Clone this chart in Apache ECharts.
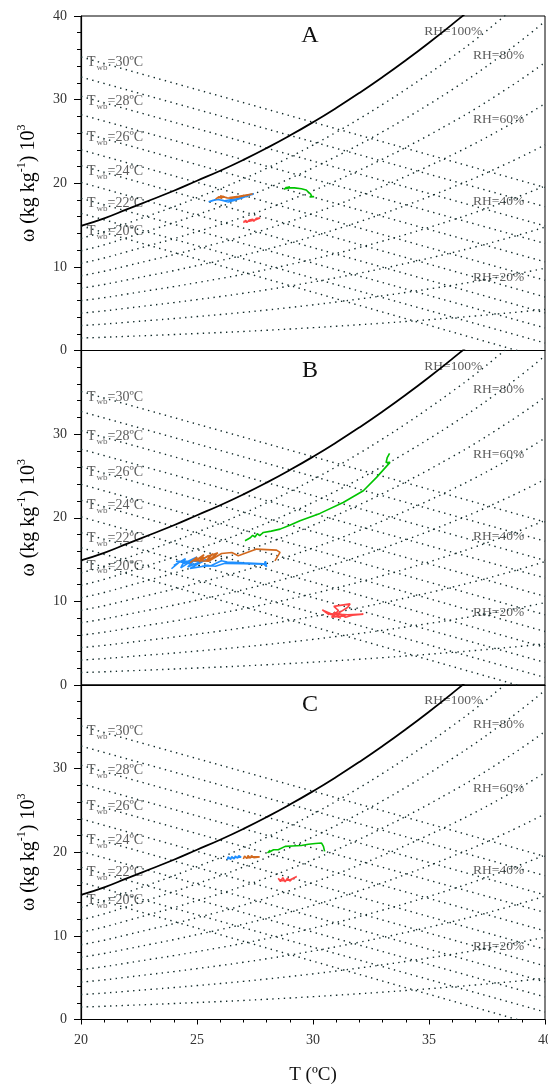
<!DOCTYPE html>
<html>
<head>
<meta charset="UTF-8">
<title>psychrometric panels</title>
<script src="https://cdn.jsdelivr.net/npm/echarts@6/dist/echarts.min.js"></script>
<style>html,body{margin:0;padding:0;background:#fff;}</style>
</head>
<body>
<div id="main" style="width:548px;height:1086px;"></div>
<script type="text/javascript">
var FONT = '"Liberation Serif", "DejaVu Serif", serif';

// saturation curve (RH=100%), omega x 10^3 read at each degree
var satT = [20, 21, 22, 23, 24, 25, 26, 27, 28, 29, 30, 31, 32, 33, 34, 35, 36, 37, 38, 39, 40];
var satW = [14.9, 15.8, 16.9, 18.0, 19.1, 20.3, 21.5, 22.8, 24.2, 25.7, 27.3, 29.0, 30.8, 32.7, 34.7, 36.8, 39.0, 41.3, 43.8, 46.4, 49.2];
var rhLevels = [10, 20, 30, 40, 50, 60, 70, 80, 90];

// wet-bulb lines: omega at T=20 and the point where each leaves the frame
var twbVals = [30, 29, 28, 27, 26, 25, 24, 23, 22, 21, 20];
var twbLeftW = [35.1, 32.7, 30.4, 28.2, 26.1, 24.0, 22.1, 20.1, 18.2, 16.4, 14.9];
var twbEndT = [40, 40, 40, 40, 40, 40, 40, 40, 40, 40, 38.8];
var twbEndW = [19.5, 17.2, 14.9, 12.8, 10.6, 8.4, 6.4, 4.5, 2.7, 0.9, 0];
var twbLabelled = [30, 28, 26, 24, 22, 20];

var rhLabels = ['RH=100%', 'RH=80%', 'RH=60%', 'RH=40%', 'RH=20%'];
var rhLabelT = [34.8, 36.9, 36.9, 36.9, 36.9];
var rhLabelW = [38.1, 35.3, 27.6, 17.8, 8.7];

var panelNames = ['A', 'B', 'C'];
var trackColors = ['#1f8fff', '#d2691e', '#ff4444', '#00c400'];

// panel A tracks [T, omega]
var blueA = [[25.5,17.8],[25.7,17.95],[25.6,17.85],[25.8,18.05],[25.65,17.9],[25.9,18.05],[26.1,17.95],[26.35,17.75],[26.6,17.95],[26.9,18.2],[27.2,18.5],[27.45,18.75],[27.2,18.6],[26.7,18.15],[26.2,17.9]];
var orangeA = [[25.8,18.1],[25.95,18.4],[26.05,18.2],[26.15,18.45],[25.9,18.25],[26.2,18.35],[26.0,18.5],[26.3,18.25],[26.5,18.2],[26.8,18.35],[27.1,18.55],[27.4,18.75],[27.25,18.65],[26.8,18.45],[26.4,18.3]];
var redA = [[27.0,15.3],[27.1,15.55],[27.15,15.3],[27.25,15.6],[27.3,15.4],[27.4,15.7],[27.45,15.45],[27.55,15.8],[27.6,15.6],[27.72,15.85],[27.55,15.65],[27.4,15.55],[27.25,15.45],[27.1,15.4],[27.0,15.45]];
var greenA = [[28.75,19.25],[28.85,19.5],[28.9,19.3],[29.0,19.55],[28.8,19.35],[28.95,19.45],[29.2,19.45],[29.5,19.35],[29.7,19.2],[29.8,18.95],[29.9,18.7],[29.95,18.4],[29.85,18.35],[30.05,18.4]];

// panel B tracks
var blueB = [[23.9,13.9],[24.2,14.6],[24.0,14.3],[24.5,15.1],[24.3,14.0],[24.8,14.9],[24.4,14.5],[25.0,15.3],[24.6,14.1],[25.2,14.8],[24.1,14.8],[24.9,14.4],[25.4,15.0],[24.7,13.95],[25.5,14.3],[25.2,14.2],[25.6,14.25],[26.05,14.85],[26.3,14.7],[27.0,14.6],[27.86,14.5],[28.0,14.15],[27.95,14.8],[27.9,14.45],[27.0,14.5],[26.2,14.55],[25.8,14.2],[25.3,14.35]];
var orangeB = [[24.7,14.6],[25.0,15.3],[24.9,14.8],[25.3,15.6],[25.1,14.7],[25.5,15.5],[25.2,15.0],[25.7,15.7],[25.4,14.9],[25.8,15.4],[25.6,15.1],[25.9,15.8],[25.3,15.2],[24.8,14.9],[25.5,14.8],[26.06,15.73],[26.5,15.85],[26.78,15.45],[27.57,16.25],[28.43,16.13],[28.58,15.85],[28.36,14.85]];
var redB = [[30.4,9.0],[30.7,8.4],[30.5,8.8],[31.0,8.2],[30.6,8.6],[31.2,8.0],[30.9,8.7],[31.4,8.3],[30.8,8.1],[31.1,8.9],[30.9,9.4],[31.6,9.7],[31.5,9.3],[31.1,8.6],[31.4,8.1],[31.7,8.35],[32.17,8.47],[31.5,8.4],[30.8,8.5],[30.45,8.9]];
var greenB = [[27.07,17.25],[27.3,17.6],[27.4,17.9],[27.5,17.7],[27.6,18.1],[27.7,17.85],[27.86,18.24],[28.2,18.4],[28.58,18.64],[29.0,19.1],[29.44,19.64],[30.3,20.52],[31.3,21.83],[32.17,23.23],[32.74,24.83],[33.32,26.62],[33.15,26.6],[33.2,27.2],[33.3,27.7]];

// panel C tracks
var blueC = [[26.3,19.1],[26.35,19.45],[26.45,19.15],[26.5,19.5],[26.6,19.2],[26.65,19.55],[26.75,19.3],[26.8,19.6],[26.9,19.4],[26.95,19.6],[26.7,19.4],[26.45,19.3],[26.3,19.25]];
var orangeC = [[27.0,19.2],[27.05,19.55],[27.15,19.25],[27.2,19.6],[27.3,19.3],[27.35,19.6],[27.45,19.35],[27.7,19.45],[27.4,19.45],[27.1,19.3]];
var redC = [[28.5,16.9],[28.6,16.5],[28.7,16.95],[28.8,16.45],[28.9,16.9],[29.0,16.55],[29.1,16.8],[29.3,17.1],[29.0,16.7],[28.7,16.6],[28.55,16.75]];
var greenC = [[28.04,19.9],[28.15,20.25],[28.1,20.0],[28.3,20.3],[28.5,20.3],[28.8,20.7],[29.1,20.75],[29.5,20.8],[29.8,20.95],[30.1,21.05],[30.37,21.1],[30.45,20.7],[30.5,20.1]];

var tracks = [
	[blueA, orangeA, redA, greenA],
	[blueB, orangeB, redB, greenB],
	[blueC, orangeC, redC, greenC]
];

var GRID_LEFT = 81;
var GRID_TOP = 16;
var GRID_W = 464;
var GRID_H = 334.5;

function dotted() {
	return { type: [1.4, 4.4], width: 1.4, color: '#0f2828' };
}

var myChart = echarts.init(document.getElementById('main'));

var option = {
	animation: false,
	backgroundColor: '#fff',
	grid: [],
	xAxis: [],
	yAxis: [],
	series: [],
	graphic: []
};

for (var i = 0; i < 3; i++) {
	var last = (i === 2);
	var panelTop = GRID_TOP + i * GRID_H;
	option.grid.push({
		left: GRID_LEFT, top: panelTop, width: GRID_W, height: GRID_H,
		containLabel: false, outerBoundsMode: 'none',
		show: true, borderColor: '#000', borderWidth: 1
	});
	option.xAxis.push({
		type: 'value', gridIndex: i, min: 20, max: 40, interval: 5,
		axisLine: { show: true, lineStyle: { color: '#000', width: 1.2 } },
		axisTick: { show: last, length: 5, lineStyle: { color: '#000' } },
		minorTick: { show: last, splitNumber: 5, length: 3, lineStyle: { color: '#000' } },
		axisLabel: { show: last, margin: 14, color: '#333', fontFamily: FONT, fontSize: 14 },
		splitLine: { show: false },
		name: last ? 'T (ºC)' : '',
		nameLocation: 'middle', nameGap: 46,
		nameTextStyle: { fontFamily: FONT, fontSize: 19, color: '#111' }
	});
	option.yAxis.push({
		type: 'value', gridIndex: i, min: 0, max: 40, interval: 10,
		axisLine: { show: true, lineStyle: { color: '#000', width: 1.2 } },
		axisTick: { show: true, length: 7, lineStyle: { color: '#000' } },
		minorTick: { show: true, splitNumber: 5, length: 4, lineStyle: { color: '#000' } },
		axisLabel: { margin: 14, color: '#333', fontFamily: FONT, fontSize: 14, showMaxLabel: i === 0 },
		splitLine: { show: false },
		name: '{n|ω (kg kg}{p|-1}{n|) 10}{p|3}',
		nameLocation: 'middle', nameRotate: 90, nameGap: 42,
		nameTextStyle: {
			rich: {
				n: { fontFamily: FONT, fontSize: 20, color: '#000', lineHeight: 23, verticalAlign: 'bottom' },
				p: { fontFamily: FONT, fontSize: 12, color: '#000', lineHeight: 12, verticalAlign: 'top' }
			}
		}
	});

	// RH lines
	for (var r = 0; r < rhLevels.length; r++) {
		var rhData = [];
		for (var k = 0; k < satT.length; k++) {
			rhData.push([satT[k], satW[k] * rhLevels[r] / 100]);
		}
		option.series.push({
			type: 'line', xAxisIndex: i, yAxisIndex: i, data: rhData,
			smooth: true, showSymbol: false, silent: true, lineStyle: dotted()
		});
	}
	// wet-bulb lines
	for (var w = 0; w < twbVals.length; w++) {
		option.series.push({
			type: 'line', xAxisIndex: i, yAxisIndex: i,
			data: [[20, twbLeftW[w]], [twbEndT[w], twbEndW[w]]],
			showSymbol: false, silent: true, lineStyle: dotted()
		});
	}
	// saturation curve
	var satData = [];
	for (var s = 0; s < satT.length; s++) satData.push([satT[s], satW[s]]);
	option.series.push({
		type: 'line', xAxisIndex: i, yAxisIndex: i, data: satData,
		smooth: true, showSymbol: false, silent: true,
		lineStyle: { color: '#000', width: 1.8 }
	});
	// measured tracks
	for (var t = 0; t < 4; t++) {
		option.series.push({
			type: 'line', xAxisIndex: i, yAxisIndex: i, data: tracks[i][t],
			showSymbol: false, silent: true,
			lineStyle: { color: trackColors[t], width: 1.6 }
		});
	}
	// wet-bulb labels
	var twbLabelData = [];
	for (var q = 0; q < twbLabelled.length; q++) {
		twbLabelData.push([20, twbLeftW[twbVals.indexOf(twbLabelled[q])]]);
	}
	option.series.push({
		type: 'scatter', xAxisIndex: i, yAxisIndex: i, data: twbLabelData,
		symbolSize: 0, silent: true,
		label: {
			show: true, position: 'right', distance: 6, offset: [0, 6],
			formatter: function (p) {
				return '{t|T}{s|wb}{t|=' + twbLabelled[p.dataIndex] + 'ºC}';
			},
			rich: {
				t: { fontFamily: FONT, fontSize: 14, color: '#333', lineHeight: 15, verticalAlign: 'top' },
				s: { fontFamily: FONT, fontSize: 9, color: '#444', lineHeight: 9, padding: [9, 0, 0, 1] }
			}
		}
	});
	// RH labels
	var rhLabelData = [];
	for (var m = 0; m < rhLabels.length; m++) rhLabelData.push([rhLabelT[m], rhLabelW[m]]);
	option.series.push({
		type: 'scatter', xAxisIndex: i, yAxisIndex: i, data: rhLabelData,
		symbolSize: 0, silent: true,
		label: {
			show: true, position: 'right', distance: 0,
			formatter: function (p) { return rhLabels[p.dataIndex]; },
			fontFamily: FONT, fontSize: 13.5, color: '#333'
		}
	});

	option.graphic.push({
		type: 'text', x: 310, y: panelTop + 20,
		style: {
			text: panelNames[i], font: '24px ' + FONT, fill: '#111',
			align: 'center', verticalAlign: 'middle',
			textAlign: 'center', textVerticalAlign: 'middle'
		}
	});
}

myChart.setOption(option);
</script>
</body>
</html>
